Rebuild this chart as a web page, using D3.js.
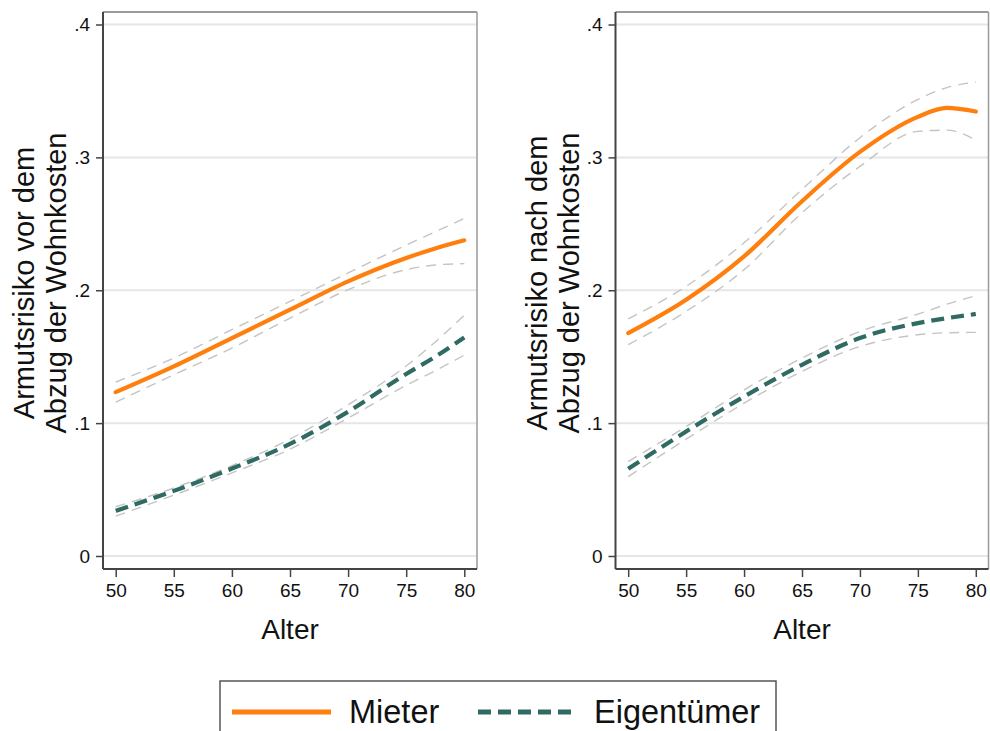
<!DOCTYPE html>
<html>
<head>
<meta charset="utf-8">
<script src="https://cdn.jsdelivr.net/npm/d3@7/dist/d3.min.js"></script>
<style>
  html, body { margin: 0; padding: 0; background: #fff; }
  svg { display: block; font-family: "Liberation Sans", Arial, sans-serif; }
</style>
</head>
<body>
<svg id="chart" width="990" height="731"></svg>
<script>
// Alter (ages) at which the fitted poverty risk is drawn
const ages = [50, 55, 60, 65, 70, 75, 77.5, 80];

// Armutsrisiko vor Abzug der Wohnkosten
const beforeRenter      = [0.1233, 0.1427, 0.1640, 0.1854, 0.2067, 0.2243, 0.2315, 0.2376];
const beforeRenterHi    = [0.1309, 0.1490, 0.1703, 0.1916, 0.2130, 0.2340, 0.2440, 0.2540];
const beforeRenterLo    = [0.1158, 0.1364, 0.1565, 0.1790, 0.2004, 0.2155, 0.2190, 0.2200];
const beforeOwner       = [0.0340, 0.0490, 0.0658, 0.0843, 0.1086, 0.1370, 0.1500, 0.1645];
const beforeOwnerHi     = [0.0370, 0.0512, 0.0680, 0.0880, 0.1138, 0.1430, 0.1610, 0.1812];
const beforeOwnerLo     = [0.0300, 0.0458, 0.0625, 0.0804, 0.1038, 0.1285, 0.1395, 0.1512];

// Armutsrisiko nach Abzug der Wohnkosten
const afterRenter       = [0.1678, 0.1929, 0.2255, 0.2670, 0.3041, 0.3305, 0.3372, 0.3345];
const afterRenterHi     = [0.1784, 0.2030, 0.2357, 0.2758, 0.3148, 0.3436, 0.3525, 0.3567];
const afterRenterLo     = [0.1590, 0.1841, 0.2155, 0.2583, 0.2932, 0.3196, 0.3205, 0.3130];
const afterOwner        = [0.0656, 0.0937, 0.1200, 0.1439, 0.1640, 0.1753, 0.1790, 0.1821];
const afterOwnerHi      = [0.0711, 0.0974, 0.1250, 0.1490, 0.1690, 0.1820, 0.1895, 0.1959];
const afterOwnerLo      = [0.0598, 0.0879, 0.1150, 0.1389, 0.1577, 0.1665, 0.1680, 0.1683];

const xTicks = [50, 55, 60, 65, 70, 75, 80];
const yTicks = [0, 0.1, 0.2, 0.3, 0.4];
const yTickLabels = ["0", ".1", ".2", ".3", ".4"];

const seriesNames = ["Mieter", "Eigentümer"];
const xTitle = "Alter";
const yTitles = [
  ["Armutsrisiko vor dem", "Abzug der Wohnkosten"],
  ["Armutsrisiko nach dem", "Abzug der Wohnkosten"]
];

const ORANGE = "#ff7f0e";
const TEAL = "#2f6b62";
const CI_GREY = "#c4c4c4";

const svg = d3.select("#chart");

const panels = [
  { left: 103, width: 374, titleX: [34, 66],
    renter: beforeRenter, renterHi: beforeRenterHi, renterLo: beforeRenterLo,
    owner: beforeOwner, ownerHi: beforeOwnerHi, ownerLo: beforeOwnerLo },
  { left: 615.5, width: 373, titleX: [547, 579],
    renter: afterRenter, renterHi: afterRenterHi, renterLo: afterRenterLo,
    owner: afterOwner, ownerHi: afterOwnerHi, ownerLo: afterOwnerLo }
];

const plotTop = 12, plotBottom = 569;
const y = d3.scaleLinear().domain([0, 0.4]).range([556, 24.5]);

panels.forEach((p, i) => {
  const inset = 12.7;
  const x = d3.scaleLinear().domain([50, 80]).range([p.left + inset, p.left + p.width - inset]);
  const g = svg.append("g");

  // grid lines
  g.selectAll("line.grid").data(yTicks).join("line")
    .attr("x1", p.left).attr("x2", p.left + p.width)
    .attr("y1", d => y(d)).attr("y2", d => y(d))
    .attr("stroke", "#e6e6e6").attr("stroke-width", 2);

  // frame: top and right lighter
  g.append("line").attr("x1", p.left).attr("x2", p.left + p.width)
    .attr("y1", plotTop).attr("y2", plotTop).attr("stroke", "#7a7a7a").attr("stroke-width", 1.5);
  g.append("line").attr("x1", p.left + p.width).attr("x2", p.left + p.width)
    .attr("y1", plotTop).attr("y2", plotBottom).attr("stroke", "#9a9a9a").attr("stroke-width", 1.5);

  const line = d3.line().x((d, k) => x(ages[k])).y(d => y(d)).curve(d3.curveMonotoneX);

  // confidence bands
  [p.renterHi, p.renterLo, p.ownerHi, p.ownerLo].forEach(arr => {
    g.append("path").attr("d", line(arr)).attr("fill", "none")
      .attr("stroke", CI_GREY).attr("stroke-width", 1.4)
      .attr("stroke-dasharray", "10,7");
  });

  g.append("path").attr("d", line(p.owner)).attr("fill", "none")
    .attr("stroke", TEAL).attr("stroke-width", 4.2)
    .attr("stroke-dasharray", "13,7");
  g.append("path").attr("d", line(p.renter)).attr("fill", "none")
    .attr("stroke", ORANGE).attr("stroke-width", 4.2)
    .attr("stroke-linecap", "round");

  // y axis
  const yAxis = d3.axisLeft(y).tickValues(yTicks)
    .tickFormat((d, k) => yTickLabels[k]).tickSize(7).tickPadding(6);
  const ya = g.append("g").attr("transform", `translate(${p.left},0)`).call(yAxis);
  ya.select(".domain").attr("d", `M0,${plotTop}V${plotBottom}`).attr("stroke", "#444").attr("stroke-width", 2);
  ya.selectAll(".tick line").attr("stroke", "#444").attr("stroke-width", 1.5);
  ya.selectAll(".tick text").attr("font-size", 19).attr("fill", "#111")
    .attr("font-family", "Liberation Sans, Arial, sans-serif");

  // x axis
  const xAxis = d3.axisBottom(x).tickValues(xTicks).tickSize(8).tickPadding(7);
  const xa = g.append("g").attr("transform", `translate(0,${plotBottom})`).call(xAxis);
  xa.select(".domain").attr("d", `M${p.left},0H${p.left + p.width}`).attr("stroke", "#444").attr("stroke-width", 2);
  xa.selectAll(".tick line").attr("stroke", "#444").attr("stroke-width", 1.5);
  xa.selectAll(".tick text").attr("font-size", 19).attr("fill", "#111")
    .attr("font-family", "Liberation Sans, Arial, sans-serif");

  // axis titles
  g.append("text").attr("x", x(65)).attr("y", 639)
    .attr("text-anchor", "middle").attr("font-size", 28).attr("fill", "#111").text(xTitle);

  yTitles[i].forEach((t, k) => {
    g.append("text")
      .attr("transform", `translate(${p.titleX[k]},283) rotate(-90)`)
      .attr("text-anchor", "middle").attr("font-size", 29).attr("fill", "#111").text(t);
  });
});

// legend
const lg = svg.append("g");
lg.append("rect").attr("x", 220).attr("y", 681).attr("width", 556).attr("height", 60)
  .attr("fill", "#fff").attr("stroke", "#555").attr("stroke-width", 1.5);
lg.append("line").attr("x1", 232).attr("x2", 331).attr("y1", 712).attr("y2", 712)
  .attr("stroke", ORANGE).attr("stroke-width", 5);
lg.append("text").attr("x", 349).attr("y", 723).attr("font-size", 32.5).attr("fill", "#111").text(seriesNames[0]);
lg.append("line").attr("x1", 478).attr("x2", 577).attr("y1", 712).attr("y2", 712)
  .attr("stroke", TEAL).attr("stroke-width", 5).attr("stroke-dasharray", "13,7");
lg.append("text").attr("x", 594).attr("y", 723).attr("font-size", 32.5).attr("fill", "#111").text(seriesNames[1]);
</script>
</body>
</html>
